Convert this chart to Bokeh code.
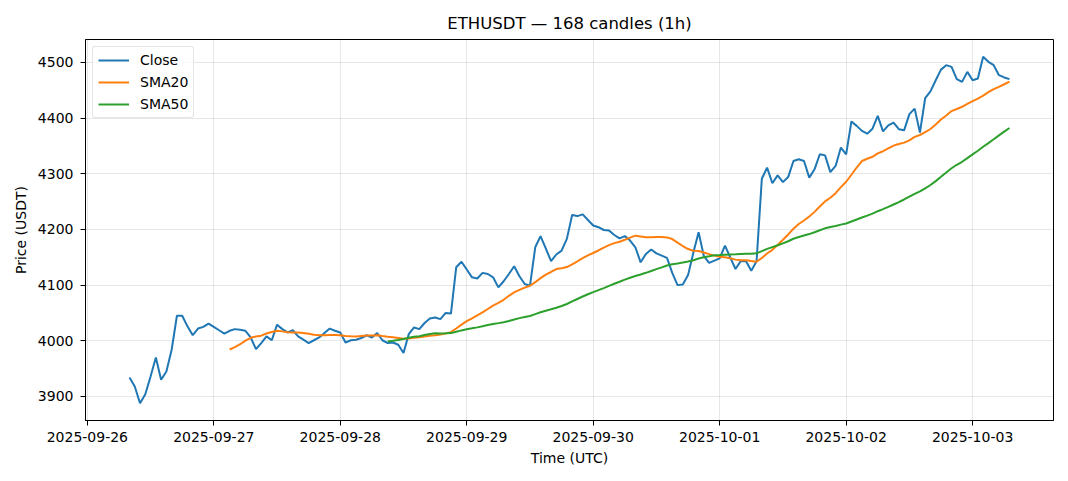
import numpy as np
import pandas as pd
from bokeh.plotting import figure
from bokeh.models import (Range1d, DatetimeTickFormatter, DaysTicker,
                          SingleIntervalTicker, ColumnDataSource)
from bokeh.embed import file_html
from bokeh.resources import INLINE

# ---------------- data ----------------
title_text = "ETHUSDT \u2014 168 candles (1h)"
start_time = "2025-09-26 08:00"
n_candles = 168
close = [
    3934, 3918, 3888, 3904, 3936, 3970, 3930, 3945, 3984, 4045,
    4045, 4026, 4010, 4022, 4025, 4031, 4025, 4019, 4013, 4018,
    4021, 4020, 4018, 4006, 3985, 3996, 4008, 4001, 4029, 4021,
    4015, 4019, 4008, 4002, 3996, 4001, 4006, 4014, 4022, 4018,
    4015, 3997, 4001, 4002, 4005, 4010, 4006, 4014, 4001, 3996,
    3997, 3993, 3978, 4012, 4024, 4021, 4032, 4040, 4042, 4039,
    4050, 4049, 4132, 4142, 4128, 4114, 4112, 4122, 4120, 4114,
    4096, 4107, 4120, 4134, 4116, 4102, 4099, 4168, 4188, 4166,
    4143, 4155, 4162, 4183, 4226, 4224, 4227, 4217, 4207, 4204,
    4199, 4198, 4190, 4184, 4188, 4180, 4168, 4141, 4156, 4164,
    4157, 4153, 4149, 4122, 4100, 4101, 4118, 4158, 4195, 4152,
    4140, 4144, 4148, 4171, 4150, 4129, 4143, 4143, 4126, 4143,
    4291, 4311, 4283, 4297, 4285, 4294, 4323, 4326, 4323, 4293,
    4308, 4335, 4333, 4303, 4314, 4347, 4335, 4394, 4386, 4377,
    4372, 4381, 4404, 4376, 4387, 4392, 4380, 4378, 4407, 4417,
    4374, 4436, 4448, 4468, 4487, 4495, 4492, 4470, 4465, 4483,
    4468, 4471, 4510, 4501, 4495, 4477, 4473, 4470,
]
y_ticks_step = 100
sma_short = 20
sma_long = 50

times = pd.date_range(start_time, periods=n_candles, freq="h")
s = pd.Series(close, dtype=float)
sma20 = s.rolling(sma_short).mean()
sma50 = s.rolling(sma_long).mean()

src = ColumnDataSource(dict(t=times, close=s, sma20=sma20, sma50=sma50))

# ranges with 5% padding (matplotlib style)
t0 = times[0].value / 1e6
t1 = times[-1].value / 1e6
dt = t1 - t0
ymin, ymax = min(close), max(close)
dy = ymax - ymin

FONT = "DejaVu Sans"

p = figure(width=1060, height=473, x_axis_type="datetime",
           output_backend="svg", toolbar_location=None,
           x_range=Range1d(t0 - 0.05 * dt, t1 + 0.05 * dt),
           y_range=Range1d(ymin - 0.05 * dy, ymax + 0.05 * dy),
           min_border_left=85, min_border_right=7,
           min_border_top=39, min_border_bottom=53)

p.title.text = title_text
p.title.align = "center"
p.title.text_font = FONT
p.title.text_font_size = "16.5px"
p.title.text_font_style = "normal"
p.title.text_color = "black"
p.title.standoff = 13

c1, c2, c3 = "#1f77b4", "#ff7f0e", "#2ca02c"
p.line("t", "close", source=src, color=c1, line_width=2, legend_label="Close")
p.line("t", "sma20", source=src, color=c2, line_width=2, legend_label="SMA20")
p.line("t", "sma50", source=src, color=c3, line_width=2, legend_label="SMA50")

# axes
p.xaxis.ticker = DaysTicker(days=list(range(1, 32)))
p.xaxis.formatter = DatetimeTickFormatter(days="%Y-%m-%d", months="%Y-%m-%d",
                                          hours="%Y-%m-%d")
p.yaxis.ticker = SingleIntervalTicker(interval=y_ticks_step, num_minor_ticks=0)
p.xaxis.axis_label = "Time (UTC)"
p.yaxis.axis_label = "Price (USDT)"
for ax in (p.xaxis, p.yaxis):
    ax.axis_label_text_font = FONT
    ax.axis_label_text_font_size = "14px"
    ax.axis_label_text_font_style = "normal"
    ax.axis_label_text_color = "black"
    ax.major_label_text_font = FONT
    ax.major_label_text_font_size = "14px"
    ax.major_label_text_color = "black"
    ax.minor_tick_line_color = None
    ax.major_tick_in = 0
    ax.major_tick_out = 5
    ax.major_tick_line_color = "black"
    ax.axis_line_color = "black"
    ax.axis_label_standoff = 6
p.xaxis.major_label_standoff = 6
p.yaxis.major_label_standoff = 7
p.xaxis.axis_label_standoff = 5

p.xgrid.ticker = p.xaxis.ticker
p.ygrid.ticker = p.yaxis.ticker
p.grid.grid_line_color = "#b0b0b0"
p.grid.grid_line_alpha = 0.3
p.grid.grid_line_width = 1

p.outline_line_color = "black"
p.outline_line_width = 1
p.outline_line_alpha = 1
p.background_fill_color = "white"
p.border_fill_color = "white"

# legend
lg = p.legend[0]
lg.location = "top_left"
lg.margin = 7
lg.padding = 5
lg.spacing = 6
lg.glyph_width = 31
lg.glyph_height = 16
lg.label_height = 16
lg.label_standoff = 11
lg.label_text_font = FONT
lg.label_text_font_size = "14px"
lg.label_text_color = "black"
lg.border_line_color = "#cccccc"
lg.border_line_width = 1
lg.background_fill_alpha = 0.8
lg.border_radius = 3

open("out.html", "w").write(file_html(p, INLINE))
